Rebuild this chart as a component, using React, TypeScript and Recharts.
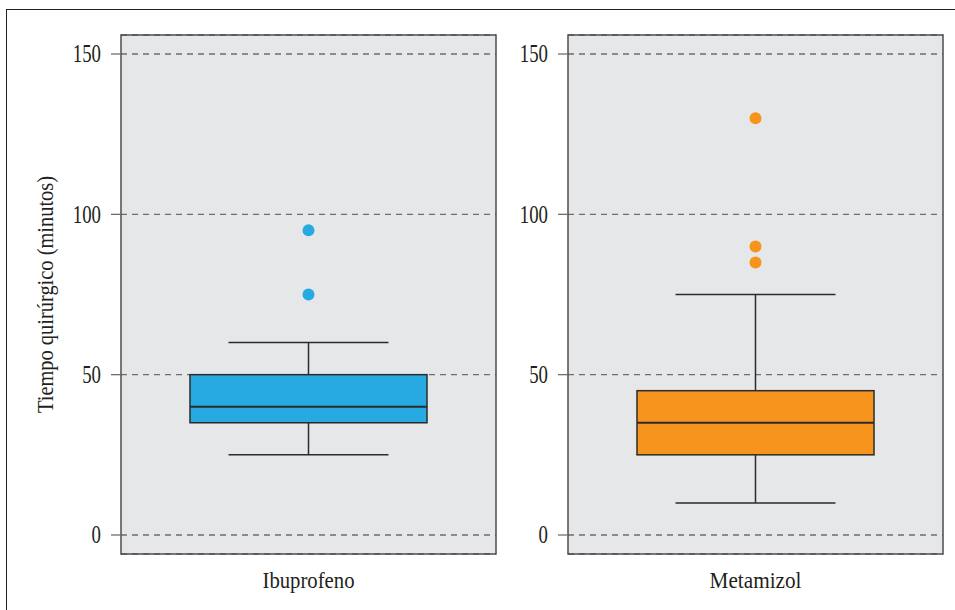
import React from "react";
import {
  ComposedChart,
  Bar,
  Scatter,
  XAxis,
  YAxis,
  CartesianGrid,
  ReferenceArea,
} from "recharts";

// ---- data ----
const categories = ["Ibuprofeno", "Metamizol"];
const whiskerLow = [25, 10];
const q1 = [35, 25];
const median = [40, 35];
const q3 = [50, 45];
const whiskerHigh = [60, 75];
const outliers = [
  [75, 95],
  [85, 90, 130],
];
const yTicks = [0, 50, 100, 150];
const yLabel = "Tiempo quirúrgico (minutos)";
const colors = ["#27aae1", "#f7941d"];

const Y_DOMAIN: [number, number] = [-5.93, 155.93];
const FONT = "'Liberation Serif', 'Times New Roman', serif";

const BoxShape = (props: any) => {
  const { x, y, width, height, payload, fill } = props;
  const { min, max } = payload;
  const px = (v: number) => y + (height * (max - v)) / (max - min);
  const cx = x + width / 2;
  const cap = width * 0.675;
  const stroke = "#2b2b2b";
  return (
    <g>
      <line x1={cx - cap / 2} x2={cx + cap / 2} y1={px(max)} y2={px(max)} stroke={stroke} strokeWidth={1.5} />
      <line x1={cx} x2={cx} y1={px(max)} y2={px(payload.q3)} stroke={stroke} strokeWidth={1.5} />
      <line x1={cx} x2={cx} y1={px(payload.q1)} y2={px(min)} stroke={stroke} strokeWidth={1.5} />
      <line x1={cx - cap / 2} x2={cx + cap / 2} y1={px(min)} y2={px(min)} stroke={stroke} strokeWidth={1.5} />
      <rect
        x={x}
        y={px(payload.q3)}
        width={width}
        height={px(payload.q1) - px(payload.q3)}
        fill={fill}
        stroke={stroke}
        strokeWidth={1.5}
      />
      <line x1={x} x2={x + width} y1={px(payload.median)} y2={px(payload.median)} stroke={stroke} strokeWidth={2} />
    </g>
  );
};

const YTick = (props: any) => {
  const { x, y, payload } = props;
  const s = String(payload.value);
  return (
    <text
      x={x}
      y={y + 8.3}
      textAnchor="end"
      fontFamily={FONT}
      fontSize={25}
      fill="#231f20"
      textLength={9.4 * s.length}
      lengthAdjust="spacingAndGlyphs"
    >
      {s}
    </text>
  );
};

const XTick = (props: any) => {
  const { x, y, payload } = props;
  return (
    <text
      x={x}
      y={y + 34}
      textAnchor="middle"
      fontFamily={FONT}
      fontSize={23}
      fill="#231f20"
      textLength={92}
      lengthAdjust="spacingAndGlyphs"
    >
      {payload.value}
    </text>
  );
};

const YLabel = (props: any) => {
  const vb = props.viewBox || {};
  const cy = vb.y + vb.height / 2;
  const x = 53;
  return (
    <text
      x={x}
      y={cy}
      transform={`rotate(-90, ${x}, ${cy})`}
      textAnchor="middle"
      fontFamily={FONT}
      fontSize={24}
      fill="#231f20"
      textLength={237}
      lengthAdjust="spacingAndGlyphs"
    >
      {yLabel}
    </text>
  );
};

const Panel = ({ i, left, showLabel }: { i: number; left: number; showLabel: boolean }) => {
  const row: any = {
    name: categories[i],
    min: whiskerLow[i],
    q1: q1[i],
    median: median[i],
    q3: q3[i],
    max: whiskerHigh[i],
  };
  outliers[i].forEach((v, k) => {
    row[`o${k}`] = v;
  });
  const data = [row];
  return (
    <div style={{ position: "absolute", left, top: 0 }}>
      <ComposedChart
        width={500}
        height={610}
        data={data}
        margin={{ top: 35, right: 4, bottom: 0, left: 0 }}
      >
        <CartesianGrid
          vertical={false}
          fill="#e6e7e8"
          stroke="#6d6e70"
          strokeWidth={1.3}
          strokeDasharray="6 5"
        />
        <XAxis
          dataKey="name"
          type="category"
          axisLine={false}
          tickLine={false}
          tickSize={0}
          tickMargin={0}
          height={56}
          tick={<XTick />}
        />
        <YAxis
          type="number"
          domain={Y_DOMAIN}
          ticks={yTicks}
          allowDataOverflow
          width={121}
          axisLine={false}
          tickSize={10}
          tickMargin={10}
          tickLine={{ stroke: "#6d6e70", strokeWidth: 1.3 }}
          tick={<YTick />}
          label={showLabel ? { content: <YLabel /> } : undefined}
        />
        <Bar
          dataKey={(d: any) => [d.min, d.max]}
          barSize={237}
          fill={colors[i]}
          shape={<BoxShape />}
          isAnimationActive={false}
        />
        {outliers[i].map((_, k) => (
          <Scatter
            key={k}
            dataKey={`o${k}`}
            fill={colors[i]}
            isAnimationActive={false}
            shape={(p: any) => <circle cx={p.cx} cy={p.cy} r={6} fill={colors[i]} />}
          />
        ))}
        <ReferenceArea
          y1={Y_DOMAIN[0]}
          y2={Y_DOMAIN[1]}
          fill="none"
          stroke="#4d4d4f"
          strokeWidth={1.5}
          ifOverflow="visible"
        />
      </ComposedChart>
    </div>
  );
};

export default function App() {
  return (
    <div
      style={{
        position: "absolute",
        left: 0,
        top: 0,
        width: 955,
        height: 610,
        overflow: "hidden",
        background: "#fff",
      }}
    >
      <div
        style={{
          position: "absolute",
          left: 6,
          top: 9,
          width: 960,
          height: 620,
          borderTop: "1.5px solid #231f20",
          borderLeft: "1.5px solid #231f20",
        }}
      />
      <Panel i={0} left={0} showLabel={true} />
      <Panel i={1} left={447} showLabel={false} />
    </div>
  );
}
